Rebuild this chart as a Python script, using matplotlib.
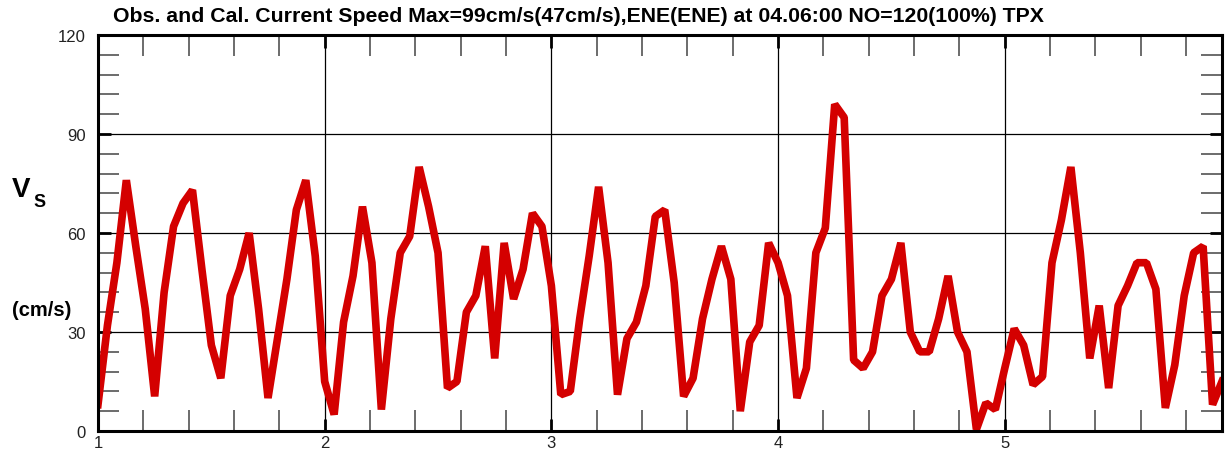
import matplotlib
matplotlib.use("Agg")
import matplotlib.pyplot as plt
from matplotlib.ticker import MultipleLocator
import numpy as np

# hourly samples starting at day 1 (120 points)
start_day = 1.0
step_day = 1.0 / 24.0
speed = [
    8, 32, 51, 76, 56, 37, 10.5, 42, 62, 69, 73, 49, 26, 16, 41, 49, 60, 37, 10, 28, 46, 67, 76, 53,
    15, 5, 33, 47, 68, 51, 6.5, 34, 54, 59, 80, 68, 54, 13, 15, 36, 41, 56, 22, 57, 40, 49, 66, 62,
    44, 11, 12, 34, 53, 74, 51, 11, 28, 33, 44, 65, 67, 45, 10.5, 16, 34, 46, 56, 46, 6, 27, 32, 57,
    51, 41, 10, 19, 54, 61.5, 99, 95, 21.5, 19, 24, 41, 46, 57, 30, 24, 24, 34, 47, 30, 24, 0.5, 8.5, 6.5,
    19, 31, 26, 14, 16.5, 51, 64, 80, 54, 22, 38, 13, 38, 44, 51, 51, 43, 7, 20, 41, 54, 56, 8, 15,
]
x_major = [1, 2, 3, 4, 5]
y_major = [0, 30, 60, 90, 120]
title = "Obs. and Cal. Current Speed Max=99cm/s(47cm/s),ENE(ENE) at 04.06:00 NO=120(100%) TPX"

days = [start_day + i * step_day for i in range(len(speed))]

plt.rcParams['font.family'] = ['Liberation Sans', 'DejaVu Sans']

fig = plt.figure(figsize=(12.26, 4.56), dpi=100)
ax = fig.add_axes([98 / 1226, 1 - 432 / 456, (1222 - 98) / 1226, (432 - 36) / 456])

ax.plot(days, speed, color='#D40000', lw=5.5, solid_joinstyle='bevel', zorder=3, clip_on=True)

ax.set_xlim(days[0], days[-1])
ax.set_ylim(0, 120)
ax.set_xticks(x_major)
ax.set_xticklabels([str(v) for v in x_major])
ax.set_yticks(y_major)
ax.set_yticklabels([str(v) for v in y_major])
ax.xaxis.set_minor_locator(MultipleLocator(0.2))
ax.yaxis.set_minor_locator(MultipleLocator(6))

ax.grid(True, which='major', color='black', lw=0.9, zorder=1)
ax.tick_params(which='both', direction='in', top=True, right=True, colors='black')
ax.tick_params(which='major', length=9, width=2, labelsize=12)
ax.tick_params(which='minor', length=15, width=1.1, color='#444444')
ax.tick_params(axis='y', which='major', pad=9)
ax.tick_params(axis='x', which='major', pad=3)
for lab in ax.get_xticklabels() + ax.get_yticklabels():
    lab.set_color('#222222')
for s in ax.spines.values():
    s.set_linewidth(2.2)
    s.set_zorder(4)

fig.text(113 / 1226, 1 - 17 / 456, title, ha='left', va='center', fontsize=15.3,
         fontweight='bold')
fig.text(12 / 1226, 1 - 190 / 456, 'V', ha='left', va='center', fontsize=20, fontweight='bold')
fig.text(33 / 1226, 1 - 203 / 456, 'S', ha='left', va='center', fontsize=13, fontweight='bold')
fig.text(12 / 1226, 1 - 310 / 456, '(cm/s)', ha='left', va='center', fontsize=14.5, fontweight='bold')

fig.savefig('out.png', dpi=100)
